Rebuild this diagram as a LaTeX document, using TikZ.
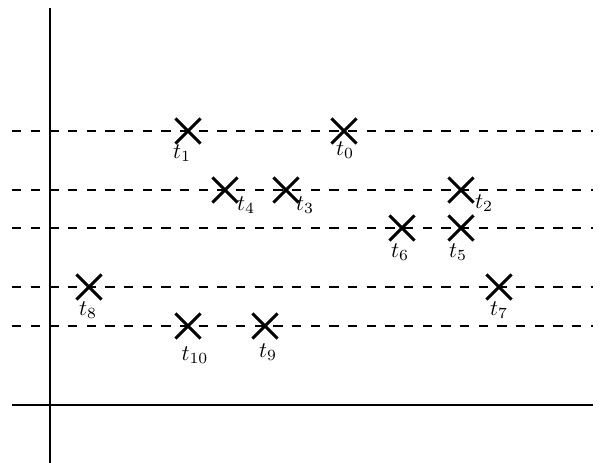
\documentclass[tikz,border=0pt]{standalone}
\usetikzlibrary{shapes.misc}
\tikzset{
	axis/.style={line width=0.9pt},
	level/.style={line width=0.7pt,dash pattern=on 4.2pt off 4.2pt},
	mark x/.style={shape=cross out,draw,line width=1.4pt,
				 minimum size=9.9pt,inner sep=0pt},
	tlabel/.style={inner sep=0pt}
}
\begin{document}
\begin{tikzpicture}[x=0.45pt,y=-0.45pt]
		\useasboundingbox (0,0) rectangle (601,463);
		% axes
		\draw[axis] (12,405) -- (593,405);
		\draw[axis] (50,8) -- (50,463);
		% levels
		\foreach \lev in {131,190,228,287,326}
			\draw[level] (12,\lev) -- (593,\lev);
		% times: name/x/y/label dx/label dy (px)
		\foreach \name/\tx/\ty/\dx/\dy in {
				0/344/131/1/19, 1/188/131/-6/22,
				2/461/190/23/13, 3/286/190/19/15, 4/225/190/21/15,
				5/461/228/-3/24, 6/402/228/-2/24,
				7/499/287/0/23, 8/89/287/-1/23,
				9/265/326/3/26, 10/188/326/7/29}
			\node(t\name)[mark x,
						label={[tlabel,xshift=0.45*\dx pt,yshift=-0.45*\dy pt]center:$t_{\name}$}]
				at (\tx,\ty) {};
\end{tikzpicture}
\end{document}
